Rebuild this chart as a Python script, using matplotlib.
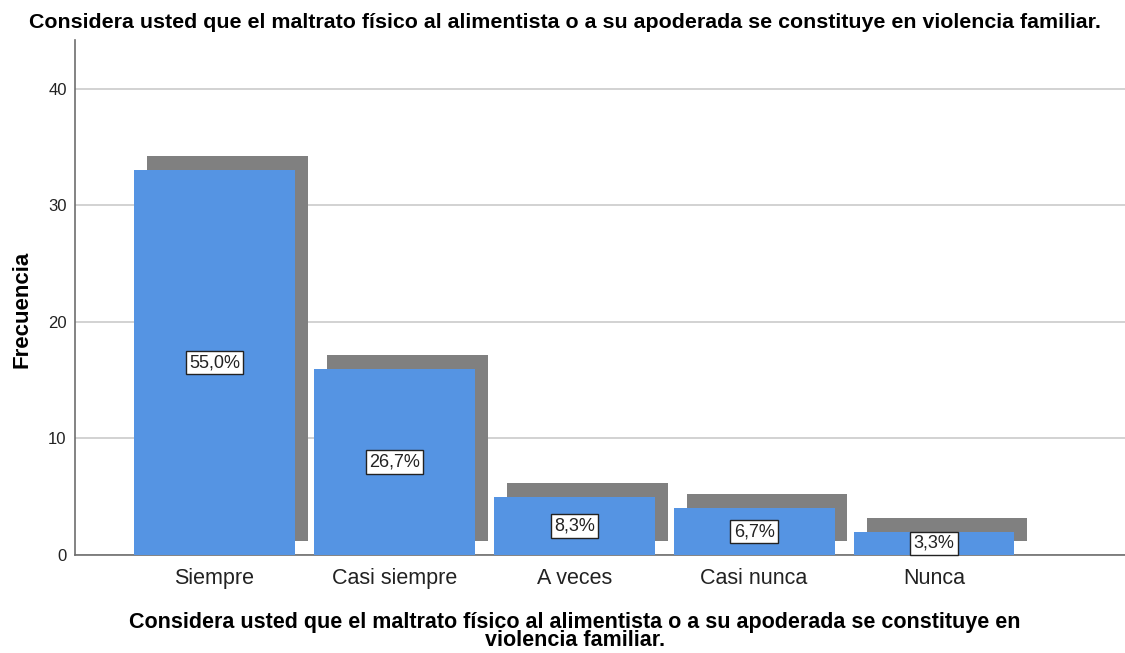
import numpy as np
import matplotlib.pyplot as plt

plt.rcParams['font.family'] = ['Liberation Sans', 'DejaVu Sans']

categorias = ["Siempre", "Casi siempre", "A veces", "Casi nunca", "Nunca"]
frecuencia = [33, 16, 5, 4, 2]
porcentajes = ["55,0%", "26,7%", "8,3%", "6,7%", "3,3%"]

titulo = "Considera usted que el maltrato físico al alimentista o a su apoderada se constituye en violencia familiar."
xlab = "Considera usted que el maltrato físico al alimentista o a su apoderada se constituye en\nviolencia familiar."

azul = "#5594E3"
sombra = "#808080"

fig = plt.figure(figsize=(11.25, 6.53), dpi=100)
ax = fig.add_axes([0.0667, 0.150, 0.933, 0.789])

x = np.arange(len(categorias))
ancho = 0.894

# sombra "3D" detras de cada barra
ax.bar(x + 0.072, frecuencia, width=ancho, bottom=1.2, color=sombra, zorder=2)
ax.bar(x, frecuencia, width=ancho, color=azul, zorder=3)

for xi, v, p in zip(x, frecuencia, porcentajes):
    ax.text(xi, v / 2, p, ha="center", va="center", fontsize=13, zorder=4,
            color="#222222",
            bbox=dict(boxstyle="square,pad=0.18", fc="white", ec="#222222", lw=1))

ax.set_xlim(-0.775, 5.06)
ax.set_ylim(0, 44.2)
ax.set_yticks([0, 10, 20, 30, 40])
ax.set_xticks(x)
ax.set_xticklabels(categorias, fontsize=15.5, color="#222222")
ax.tick_params(axis="y", labelsize=12, length=0, pad=6, labelcolor="#222222")
ax.tick_params(axis="x", length=0, pad=9)
ax.yaxis.grid(True, color="#CFCFCF", lw=1.3, zorder=1)
ax.set_axisbelow(True)

for s in ["top", "right"]:
    ax.spines[s].set_visible(False)
for s in ["left", "bottom"]:
    ax.spines[s].set_color("#6E6E6E")
    ax.spines[s].set_linewidth(1.2)

ax.set_ylabel("Frecuencia", fontsize=16, fontweight="bold")
ax.yaxis.set_label_coords(-0.041, 0.476)
ax.set_xlabel(xlab, fontsize=15.5, fontweight="bold", linespacing=0.85)
ax.xaxis.set_label_coords(0.476, -0.110)
ax.xaxis.label.set_va("top")
fig.text(0.502, 0.966, titulo, ha="center", va="center", fontsize=15.4, fontweight="bold")

fig.savefig("out.png", dpi=100)
